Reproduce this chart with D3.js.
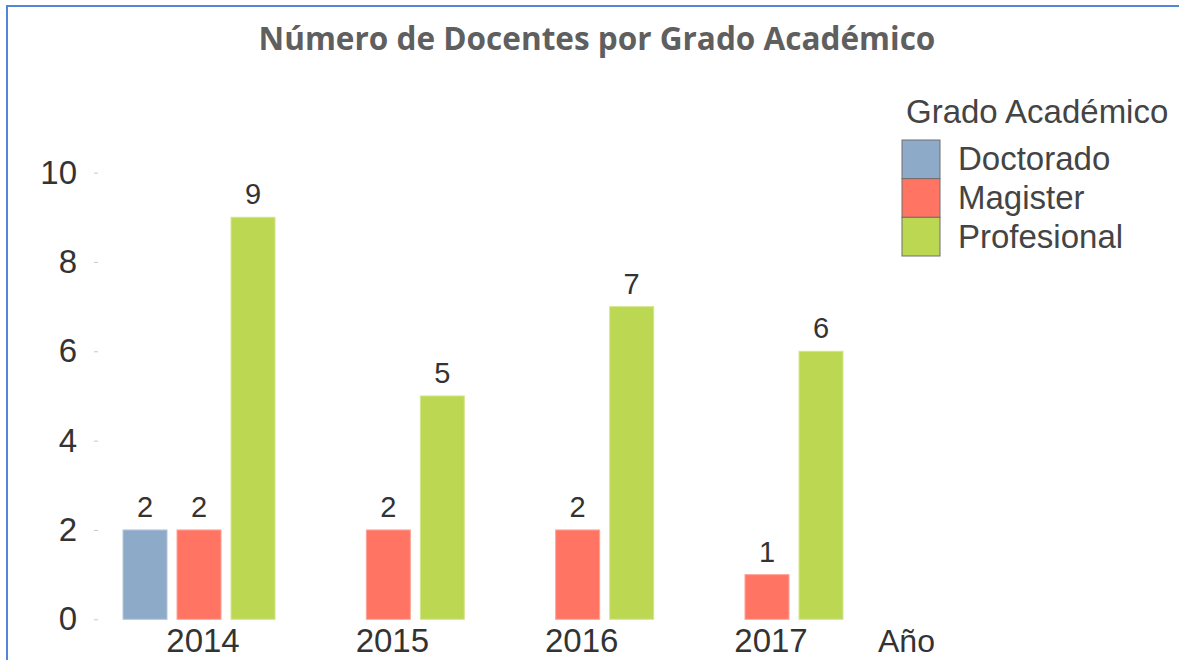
<!DOCTYPE html>
<html><head><meta charset="utf-8">
<script src="https://cdn.jsdelivr.net/npm/d3@7"></script>
<style>html,body{margin:0;padding:0;background:#fff;overflow:hidden}</style>
</head><body>
<svg id="chart" width="1179" height="660"></svg>
<script>
const years = ["2014", "2015", "2016", "2017"];
const series = ["Doctorado", "Magister", "Profesional"];
const doctorado = [2, null, null, null];
const magister = [2, 2, 2, 1];
const profesional = [9, 5, 7, 6];
const yTicks = [0, 2, 4, 6, 8, 10];
const colors = ["#8eaac9", "#ff7463", "#bcd853"];
const strokes = ["#b3c7dc", "#ffa398", "#d3e690"];

const values = [doctorado, magister, profesional];
const data = [];
years.forEach((y, i) => series.forEach((s, j) => {
  if (values[j][i] != null) data.push({year: y, series: s, value: values[j][i], k: j});
}));

const svg = d3.select("#chart");
const font = "'Liberation Sans', Arial, sans-serif";

// frame
svg.append("path").attr("d", "M7,660 V6 H1179").attr("fill", "none")
  .attr("stroke", "#5585d6").attr("stroke-width", 2);

const x0 = d3.scaleBand().domain(years).range([123, 843]).paddingInner(0.197).paddingOuter(0);
const x1 = d3.scaleBand().domain(series).range([0, x0.bandwidth()]).paddingInner(10 / 54).paddingOuter(0);
const y = d3.scaleLinear().domain([0, 10]).range([619.3, 172.6]);
const color = d3.scaleOrdinal().domain(series).range(colors);
const strokeC = d3.scaleOrdinal().domain(series).range(strokes);

// title
const title = svg.append("text").attr("x", 597).attr("y", 50).attr("text-anchor", "middle")
  .attr("font-family", "'Open Sans', sans-serif").attr("font-weight", 700)
  .attr("font-size", 28).attr("fill", "#5f5f5f").text("Número de Docentes por Grado Académico");
const tl = title.node().getComputedTextLength();
title.attr("font-size", 28 * 677 / tl);

// y axis
const yAxis = d3.axisLeft(y).tickValues(yTicks).tickSize(4).tickPadding(17);
const ya = svg.append("g").attr("transform", "translate(98,0)").call(yAxis);
ya.select(".domain").remove();
ya.selectAll(".tick line").attr("stroke", "#c8c8c8");
ya.selectAll(".tick text").attr("font-family", font).attr("font-size", 33).attr("fill", "#333");

// x axis
const xAxis = d3.axisBottom(x0).tickSize(0).tickPadding(0);
const xa = svg.append("g").attr("transform", "translate(4,619.3)").call(xAxis);
xa.select(".domain").remove();
xa.selectAll(".tick text").attr("font-family", font).attr("font-size", 33).attr("fill", "#333")
  .attr("dy", null).attr("y", 33);

svg.append("text").attr("x", 878).attr("y", 652.3).attr("font-family", font)
  .attr("font-size", 32).attr("fill", "#333").text("Año");

// bars
const g = svg.append("g");
g.selectAll("rect").data(data).join("rect")
  .attr("x", d => x0(d.year) + x1(d.series))
  .attr("y", d => y(d.value))
  .attr("width", x1.bandwidth())
  .attr("height", d => y(0) - y(d.value))
  .attr("fill", d => color(d.series))
  .attr("stroke", d => strokeC(d.series)).attr("stroke-width", 1);

g.selectAll("text.val").data(data).join("text").attr("class", "val")
  .attr("x", d => x0(d.year) + x1(d.series) + x1.bandwidth() / 2)
  .attr("y", d => y(d.value) - 13)
  .attr("text-anchor", "middle").attr("font-family", font).attr("font-size", 29)
  .attr("fill", "#333").text(d => d.value);

// legend
const lg = svg.append("g");
lg.append("text").attr("x", 906).attr("y", 123).attr("font-family", font)
  .attr("font-size", 33).attr("fill", "#444").text("Grado Académico");
const ly = d3.scaleBand().domain(series).range([140, 256]);
lg.selectAll("rect").data(series).join("rect")
  .attr("x", 902).attr("y", d => ly(d)).attr("width", 38).attr("height", ly.bandwidth())
  .attr("fill", d => color(d)).attr("stroke", "#6f6f6f").attr("stroke-width", 1);
lg.selectAll("text.item").data(series).join("text").attr("class", "item")
  .attr("x", 958).attr("y", d => ly(d) + ly.bandwidth() / 2 + 11)
  .attr("font-family", font).attr("font-size", 33).attr("fill", "#444").text(d => d);
</script>
</body></html>
